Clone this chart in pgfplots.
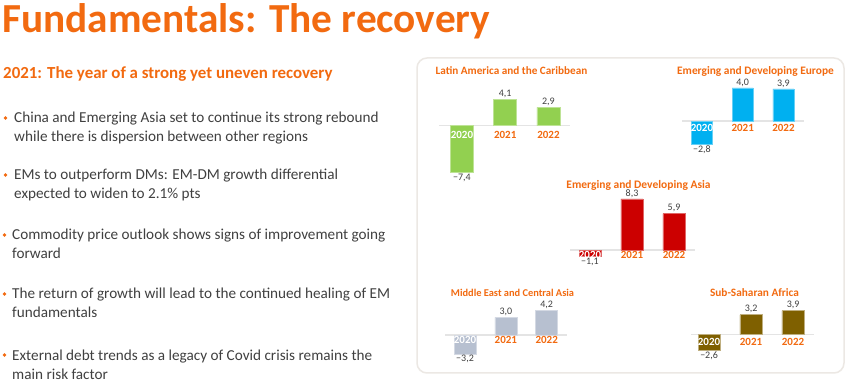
\documentclass[border=0pt]{standalone}
\usepackage{pgfplots}
\pgfplotsset{compat=1.18}
\usepackage{fontspec}
\setmainfont{Carlito}
\definecolor{ing}{HTML}{F26A10}
\definecolor{txt}{HTML}{404040}
\definecolor{valgray}{HTML}{404040}
\definecolor{framec}{HTML}{ECE8E4}
\definecolor{basec}{HTML}{E4E4E4}
\definecolor{latam}{HTML}{92D050}
\definecolor{europe}{HTML}{00B0F0}
\definecolor{asia}{HTML}{CC0000}
\definecolor{mecol}{HTML}{B7C0D0}
\definecolor{africa}{HTML}{7F6000}
\pgfplotsset{
  panel/.style={hide axis, clip=false, ybar, bar width=22pt, bar shift=0pt,
    nodes near coords, point meta=explicit symbolic,
    every node near coord/.append style={font=\fontsize{10}{12}\selectfont, text=valgray, inner sep=1.2pt}},
  neg/.style={every node near coord/.append style={anchor=north}},
  pos/.style={every node near coord/.append style={anchor=south}}
}
\tikzset{
  yearlbl/.style={font=\bfseries\fontsize{11}{13}\selectfont, text=ing},
  ptitle/.style={font=\bfseries\fontsize{#1}{13}\selectfont, text=ing},
  ptitle/.default=11
}
\begin{document}
\begin{tikzpicture}
\path[use as bounding box, fill=white] (0,0) rectangle (849pt,-387pt);
% title
\node[anchor=base west, inner sep=0, font=\bfseries\fontsize{41.3}{48}\selectfont, text=ing] at (2pt,-33pt) {Fundamentals: The recovery};
\node[anchor=base west, inner sep=0, font=\bfseries\fontsize{16.9}{20}\selectfont, text=ing] at (3pt,-79pt) {2021: The year of a strong yet uneven recovery};
% bullets
\begin{scope}[every node/.style={anchor=base west, inner sep=0, font=\fontsize{15.2}{18}\selectfont, text=txt}]
\fill[ing] (5.5pt,-118pt) circle (1.8pt);
\node at (14pt,-123pt) {China and Emerging Asia set to continue its strong rebound};
\node at (14pt,-142pt) {while there is dispersion between other regions};
\fill[ing] (5.5pt,-175pt) circle (1.8pt);
\node at (14pt,-180pt) {EMs to outperform DMs: EM-DM growth differential};
\node at (14pt,-199pt) {expected to widen to 2.1\% pts};
\fill[ing] (4.5pt,-235pt) circle (1.8pt);
\node at (12pt,-240pt) {Commodity price outlook shows signs of improvement going};
\node at (12pt,-259pt) {forward};
\fill[ing] (4.5pt,-294pt) circle (1.8pt);
\node at (12pt,-299pt) {The return of growth will lead to the continued healing of EM};
\node at (12pt,-318pt) {fundamentals};
\fill[ing] (4.5pt,-355pt) circle (1.8pt);
\node at (12pt,-360pt) {External debt trends as a legacy of Covid crisis remains the};
\node at (12pt,-379pt) {main risk factor};
\end{scope}
% frame
\draw[framec, line width=1.5pt, rounded corners=10pt] (417pt,-58pt) rectangle (844pt,-373pt);
% panel titles
\node[ptitle=11.2] at (511.5pt,-70.7pt) {Latin America and the Caribbean};
\node[ptitle=11.4] at (755.5pt,-71.7pt) {Emerging and Developing Europe};
\node[ptitle=11.5] at (638.5pt,-185.7pt) {Emerging and Developing Asia};
\node[ptitle=10.4] at (512.5pt,-292.7pt) {Middle East and Central Asia};
\node[ptitle=11.3] at (754.5pt,-292.3pt) {Sub-Saharan Africa};

% Latin America
\begin{axis}[panel, x=43.25pt, y=6.35pt, xmin=-0.53, xmax=2.5, ymin=-9, ymax=6, bar width=23pt,
  anchor=south west, at={(439pt,-182.85pt)}]
\draw[basec, line width=1.2pt] (axis cs:-0.53,0) -- (axis cs:2.5,0);
\addplot[neg, fill=latam, draw=latam!60!white, line width=0.6pt] coordinates {(0,-7.4)[−7,4]};
\addplot[pos, fill=latam, draw=latam!60!white, line width=0.6pt] coordinates {(1,4.1)[4,1] (2,2.9)[2,9]};
\node[yearlbl, text=white, yshift=-9.3pt] at (axis cs:0,0) {2020};
\node[yearlbl, yshift=-9.3pt] at (axis cs:1,0) {2021};
\node[yearlbl, yshift=-9.3pt] at (axis cs:2,0) {2022};
\end{axis}

% Europe
\begin{axis}[panel, x=40.75pt, y=8.25pt, xmin=-0.49, xmax=2.5, ymin=-4, ymax=5, bar width=21pt,
  anchor=south west, at={(682pt,-154pt)}]
\draw[basec, line width=1.2pt] (axis cs:-0.49,0) -- (axis cs:2.5,0);
\addplot[neg, fill=europe, draw=europe!60!white, line width=0.6pt] coordinates {(0,-2.8)[−2,8]};
\addplot[pos, fill=europe, draw=europe!60!white, line width=0.6pt] coordinates {(1,4.0)[4,0] (2,3.9)[3,9]};
\node[yearlbl, text=white, yshift=-6.7pt] at (axis cs:0,0) {2020};
\node[yearlbl, yshift=-6.7pt] at (axis cs:1,0) {2021};
\node[yearlbl, yshift=-6.7pt] at (axis cs:2,0) {2022};
\end{axis}

% Asia
\begin{axis}[panel, x=42pt, y=6.15pt, xmin=-0.476, xmax=2.5, ymin=-2, ymax=9, bar width=22pt,
  anchor=south west, at={(570pt,-262.3pt)}]
\draw[basec, line width=1.2pt] (axis cs:-0.476,0) -- (axis cs:2.5,0);
\addplot[neg, fill=asia, draw=asia!60!white, line width=0.6pt] coordinates {(0,-1.1)[−1,1]};
\addplot[pos, fill=asia, draw=asia!60!white, line width=0.6pt] coordinates {(1,8.3)[8,3] (2,5.9)[5,9]};
\node[yearlbl, text=white, yshift=-5pt] at (axis cs:0,0) {2020};
\node[yearlbl, yshift=-5pt] at (axis cs:1,0) {2021};
\node[yearlbl, yshift=-5pt] at (axis cs:2,0) {2022};
\end{axis}

% Middle East
\begin{axis}[panel, x=40.85pt, y=5.9pt, xmin=-0.49, xmax=2.49, ymin=-4, ymax=5, bar width=22pt,
  anchor=south west, at={(445pt,-358.6pt)}]
\draw[basec, line width=1.2pt] (axis cs:-0.49,0) -- (axis cs:2.49,0);
\addplot[neg, fill=mecol, draw=mecol!60!white, line width=0.6pt] coordinates {(0,-3.2)[−3,2]};
\addplot[pos, fill=mecol, draw=mecol!60!white, line width=0.6pt] coordinates {(1,3.0)[3,0] (2,4.2)[4,2]};
\node[yearlbl, text=white, yshift=-5pt] at (axis cs:0,0) {2020};
\node[yearlbl, yshift=-5pt] at (axis cs:1,0) {2021};
\node[yearlbl, yshift=-5pt] at (axis cs:2,0) {2022};
\end{axis}

% Africa
\begin{axis}[panel, x=42pt, y=6.1pt, xmin=-0.43, xmax=2.5, ymin=-4, ymax=5, bar width=22.5pt,
  anchor=south west, at={(691pt,-358.7pt)}]
\draw[basec, line width=1.2pt] (axis cs:-0.43,0) -- (axis cs:2.5,0);
\addplot[neg, fill=africa, draw=africa!50!white, line width=0.6pt] coordinates {(0,-2.6)[−2,6]};
\addplot[pos, fill=africa, draw=africa!50!white, line width=0.6pt] coordinates {(1,3.2)[3,2] (2,3.9)[3,9]};
\node[yearlbl, text=white, yshift=-8pt] at (axis cs:0,0) {2020};
\node[yearlbl, yshift=-8pt] at (axis cs:1,0) {2021};
\node[yearlbl, yshift=-8pt] at (axis cs:2,0) {2022};
\end{axis}
\end{tikzpicture}
\end{document}
